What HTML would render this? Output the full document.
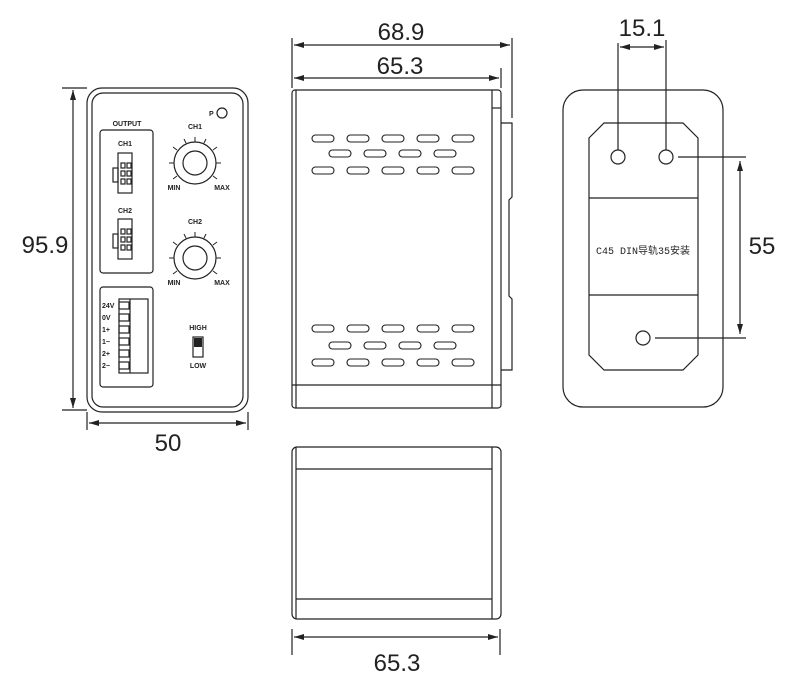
<!DOCTYPE html>
<html><head><meta charset="utf-8"><style>html,body{margin:0;padding:0;background:#fff}svg{display:block}</style></head>
<body>
<svg width="800" height="680" viewBox="0 0 800 680" xmlns="http://www.w3.org/2000/svg" font-family="'Liberation Sans','Noto Sans CJK SC',sans-serif">
<defs>
<marker id="a" viewBox="0 0 10 6" refX="10" refY="3" markerWidth="10" markerHeight="6" orient="auto-start-reverse" markerUnits="userSpaceOnUse"><path d="M0,0 L10,3 L0,6 z" fill="#222"/></marker>
</defs>
<g fill="none" stroke="#222" stroke-width="1.2">
<rect x="87" y="88" width="161" height="324" rx="15"/>
<rect x="92" y="93" width="151" height="314" rx="11"/>
<line x1="73" y1="90" x2="73" y2="408" marker-start="url(#a)" marker-end="url(#a)"/>
<line x1="62" y1="88" x2="87" y2="88"/><line x1="62" y1="410" x2="87" y2="410"/>
<line x1="87" y1="412" x2="87" y2="430"/><line x1="248" y1="412" x2="248" y2="430"/>
<line x1="89" y1="423" x2="246" y2="423" marker-start="url(#a)" marker-end="url(#a)"/>
<rect x="100" y="130" width="53" height="143" rx="3"/>
<rect x="100" y="287" width="53" height="100" rx="3"/>
<circle cx="222" cy="113" r="5"/>
<rect x="118" y="153" width="14" height="40"/><rect x="113" y="168" width="5" height="14"/>
<rect x="121" y="163" width="4" height="5"/><rect x="127" y="163" width="4" height="5"/>
<rect x="121" y="171" width="4" height="5"/><rect x="127" y="171" width="4" height="5"/>
<rect x="121" y="179" width="4" height="5"/><rect x="127" y="179" width="4" height="5"/>
<rect x="118" y="219" width="14" height="40"/><rect x="113" y="234" width="5" height="14"/>
<rect x="121" y="229" width="4" height="5"/><rect x="127" y="229" width="4" height="5"/>
<rect x="121" y="237" width="4" height="5"/><rect x="127" y="237" width="4" height="5"/>
<rect x="121" y="245" width="4" height="5"/><rect x="127" y="245" width="4" height="5"/>
<rect x="119" y="299" width="29" height="74"/><line x1="130" y1="299" x2="130" y2="373"/>
<rect x="119" y="302" width="10" height="7"/><rect x="119" y="314" width="10" height="7"/>
<rect x="119" y="326" width="10" height="7"/><rect x="119" y="338" width="10" height="7"/>
<rect x="119" y="350" width="10" height="7"/><rect x="119" y="362" width="10" height="7"/>
<rect x="193" y="337" width="10" height="20"/>
<circle cx="195" cy="163" r="21"/><circle cx="195" cy="163" r="12"/>
<circle cx="195" cy="258" r="21"/><circle cx="195" cy="258" r="12"/>
<g stroke-width="1">
<path d="M174,163h-5 M177,150l-4,-3 M186,143l-2,-4 M195,142v-5 M204,143l2,-4 M213,150l4,-3 M216,163h5 M213,176l4,3 M177,176l-4,3"/>
<path d="M174,258h-5 M177,245l-4,-3 M186,238l-2,-4 M195,237v-5 M204,238l2,-4 M213,245l4,-3 M216,258h5 M213,271l4,3 M177,271l-4,3"/>
</g>
<rect x="292" y="90" width="209" height="318" rx="3"/>
<line x1="296" y1="90" x2="296" y2="408"/><line x1="492" y1="90" x2="492" y2="408"/>
<line x1="292" y1="385" x2="501" y2="385"/><line x1="492" y1="108" x2="501" y2="108"/>
<path d="M501,123 H512 V197 l-3,3 V296 l3,3 V370 H501"/>
<line x1="512" y1="38" x2="512" y2="118"/>
<line x1="292" y1="38" x2="292" y2="88"/><line x1="501" y1="68" x2="501" y2="88"/>
<line x1="294" y1="45" x2="510" y2="45" marker-start="url(#a)" marker-end="url(#a)"/>
<line x1="294" y1="78" x2="499" y2="78" marker-start="url(#a)" marker-end="url(#a)"/>
<g stroke-width="1.1">
<rect x="312" y="135" width="22" height="7" rx="3.5"/><rect x="347" y="135" width="22" height="7" rx="3.5"/><rect x="382" y="135" width="22" height="7" rx="3.5"/><rect x="417" y="135" width="22" height="7" rx="3.5"/><rect x="452" y="135" width="22" height="7" rx="3.5"/>
<rect x="329" y="150" width="22" height="7" rx="3.5"/><rect x="364" y="150" width="22" height="7" rx="3.5"/><rect x="399" y="150" width="22" height="7" rx="3.5"/><rect x="434" y="150" width="22" height="7" rx="3.5"/>
<rect x="312" y="167" width="22" height="7" rx="3.5"/><rect x="347" y="167" width="22" height="7" rx="3.5"/><rect x="382" y="167" width="22" height="7" rx="3.5"/><rect x="417" y="167" width="22" height="7" rx="3.5"/><rect x="452" y="167" width="22" height="7" rx="3.5"/>
<rect x="312" y="325" width="22" height="7" rx="3.5"/><rect x="347" y="325" width="22" height="7" rx="3.5"/><rect x="382" y="325" width="22" height="7" rx="3.5"/><rect x="417" y="325" width="22" height="7" rx="3.5"/><rect x="452" y="325" width="22" height="7" rx="3.5"/>
<rect x="329" y="342" width="22" height="7" rx="3.5"/><rect x="364" y="342" width="22" height="7" rx="3.5"/><rect x="399" y="342" width="22" height="7" rx="3.5"/><rect x="434" y="342" width="22" height="7" rx="3.5"/>
<rect x="312" y="359" width="22" height="7" rx="3.5"/><rect x="347" y="359" width="22" height="7" rx="3.5"/><rect x="382" y="359" width="22" height="7" rx="3.5"/><rect x="417" y="359" width="22" height="7" rx="3.5"/><rect x="452" y="359" width="22" height="7" rx="3.5"/>
</g>
<rect x="292" y="447" width="209" height="172" rx="5"/>
<line x1="296" y1="447" x2="296" y2="619"/><line x1="492" y1="447" x2="492" y2="619"/>
<line x1="296" y1="469" x2="492" y2="469"/><line x1="296" y1="599" x2="492" y2="599"/>
<line x1="292" y1="629" x2="292" y2="655"/><line x1="500" y1="629" x2="500" y2="655"/>
<line x1="294" y1="637" x2="498" y2="637" marker-start="url(#a)" marker-end="url(#a)"/>
<rect x="563" y="90" width="160" height="317" rx="20"/>
<path d="M604,123 H683 L698,138 V355 L683,370 H604 L589,355 V138 Z"/>
<line x1="589" y1="198" x2="698" y2="198"/><line x1="589" y1="295" x2="698" y2="295"/>
<circle cx="618" cy="157" r="7"/><circle cx="666" cy="157" r="7"/><circle cx="643" cy="338" r="7"/>
<line x1="618" y1="43" x2="618" y2="150"/><line x1="666" y1="40" x2="666" y2="150"/>
<line x1="620" y1="47" x2="664" y2="47" marker-start="url(#a)" marker-end="url(#a)"/>
<line x1="678" y1="157" x2="746" y2="157"/><line x1="655" y1="338" x2="746" y2="338"/>
<line x1="740" y1="161" x2="740" y2="334" marker-start="url(#a)" marker-end="url(#a)"/>
</g>
<rect x="194" y="338" width="8" height="9" fill="#222"/>
<g fill="#222" font-size="24">
<text x="45" y="253" text-anchor="middle">95.9</text>
<text x="168" y="451" text-anchor="middle">50</text>
<text x="401" y="40" text-anchor="middle">68.9</text>
<text x="400" y="74" text-anchor="middle">65.3</text>
<text x="397" y="671" text-anchor="middle">65.3</text>
<text x="642" y="36" text-anchor="middle">15.1</text>
<text x="762" y="254" text-anchor="middle">55</text>
</g>
<g fill="#222" font-size="7" font-weight="bold" font-family="'Liberation Sans Narrow','Liberation Sans',sans-serif">
<text x="127" y="126" text-anchor="middle">OUTPUT</text>
<text x="125" y="146" text-anchor="middle">CH1</text>
<text x="125" y="213" text-anchor="middle">CH2</text>
<text x="195" y="129" text-anchor="middle">CH1</text>
<text x="195" y="224" text-anchor="middle">CH2</text>
<text x="174" y="190" text-anchor="middle">MIN</text>
<text x="222" y="190" text-anchor="middle">MAX</text>
<text x="174" y="285" text-anchor="middle">MIN</text>
<text x="222" y="285" text-anchor="middle">MAX</text>
<text x="209" y="116">P</text>
<text x="198" y="330" text-anchor="middle">HIGH</text>
<text x="198" y="368" text-anchor="middle">LOW</text>
<text x="102" y="308">24V</text><text x="102" y="320">0V</text><text x="102" y="332">1+</text>
<text x="102" y="344">1−</text><text x="102" y="356">2+</text><text x="102" y="368">2−</text>
</g>
<text x="643" y="254" text-anchor="middle" font-size="10" fill="#222" font-family="'Liberation Mono','Noto Sans CJK SC',monospace">C45 DIN导轨35安装</text>
</svg>
</body></html>
